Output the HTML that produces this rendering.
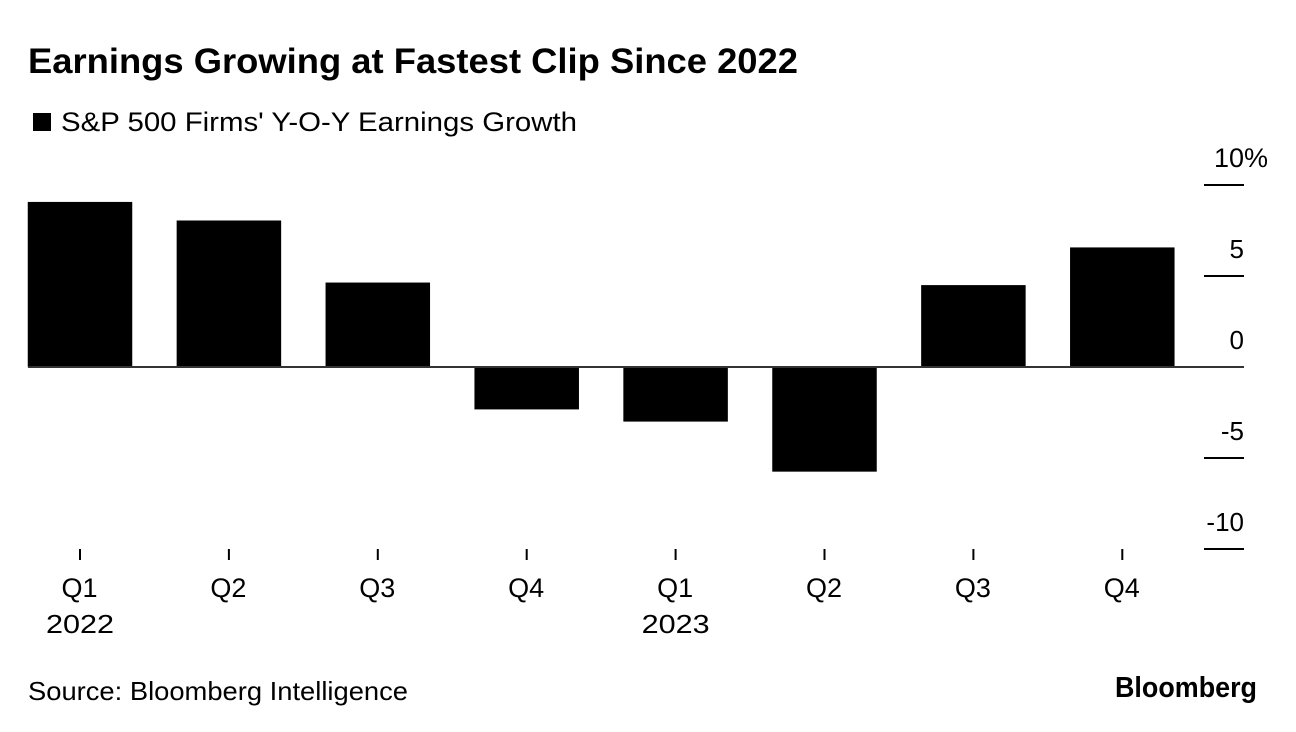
<!DOCTYPE html>
<html lang="en">
<head>
<meta charset="utf-8">
<title>Earnings Growing at Fastest Clip Since 2022</title>
<style>
html,body{margin:0;padding:0;background:#fff;}
body{width:1296px;height:732px;overflow:hidden;}
svg{display:block;}
text{font-family:"Liberation Sans",sans-serif;fill:#000;}
</style>
</head>
<body>
<svg id="chart" width="1296" height="732" viewBox="0 0 1296 732" xmlns="http://www.w3.org/2000/svg">
  <rect x="0" y="0" width="1296" height="732" fill="#fff"/>
  <text x="28" y="73" font-size="35" font-weight="700" textLength="770" lengthAdjust="spacingAndGlyphs">Earnings Growing at Fastest Clip Since 2022</text>
  <rect x="33" y="113" width="18" height="18" fill="#000"/>
  <text x="61" y="131" font-size="27" textLength="516" lengthAdjust="spacingAndGlyphs">S&amp;P 500 Firms' Y-O-Y Earnings Growth</text>
  <g id="y-axis"></g>
  <g id="bars"></g>
  <g id="x-axis"></g>
  <line id="zero-line" x1="28" x2="1244" stroke="#333" stroke-width="2"/>
  <text x="28" y="700" font-size="26" textLength="380" lengthAdjust="spacingAndGlyphs">Source: Bloomberg Intelligence</text>
  <text x="1115" y="697" font-size="29" font-weight="700" textLength="142" lengthAdjust="spacingAndGlyphs">Bloomberg</text>
</svg>
<script>
const quarters = ['Q1', 'Q2', 'Q3', 'Q4', 'Q1', 'Q2', 'Q3', 'Q4'];
const years = ['2022', '', '', '', '2023', '', '', ''];
const growth = [9.07, 8.05, 4.64, -2.33, -3.0, -5.75, 4.5, 6.57];
const yTicks = [10, 5, 0, -5, -10];
const yTickLabels = ['10%', '5', '0', '-5', '-10'];

const svgNS = 'http://www.w3.org/2000/svg';
const yZero = 367;
const yPerUnit = 18.2;
const xFirst = 80;
const xStep = 148.9;
const barWidth = 104.5;
const yScale = v => yZero - v * yPerUnit;
const xScale = i => xFirst + i * xStep;

function make(tag, attrs, parent, content) {
  const el = document.createElementNS(svgNS, tag);
  Object.keys(attrs).forEach(k => el.setAttribute(k, attrs[k]));
  if (content !== undefined) el.textContent = content;
  parent.appendChild(el);
  return el;
}

const barsGroup = document.getElementById('bars');
const xGroup = document.getElementById('x-axis');
const yGroup = document.getElementById('y-axis');
document.getElementById('zero-line').setAttribute('y1', yZero);
document.getElementById('zero-line').setAttribute('y2', yZero);

growth.forEach((v, i) => {
  const top = Math.min(yScale(v), yZero);
  const h = Math.abs(yScale(v) - yZero);
  const bar = make('rect', {x: xScale(i) - barWidth / 2, y: top, width: barWidth, height: h, fill: '#000'}, barsGroup);
  
  
});

quarters.forEach((q, i) => {
  const tick = make('line', {x1: xScale(i), x2: xScale(i), y1: 549, y2: 560, stroke: '#000', 'stroke-width': 2}, xGroup);
  
  
  const label = make('text', {x: xScale(i) - 0.5, y: 597, 'font-size': 27, 'text-anchor': 'middle'}, xGroup, q);
  
  
  if (years[i]) {
    const yearLabel = make('text', {x: xScale(i) - 34, y: 633, 'font-size': 26, textLength: 68, lengthAdjust: 'spacingAndGlyphs'}, xGroup, years[i]);
    
    
  }
});

yTicks.forEach((v, i) => {
  const tick = make('line', {x1: 1204, x2: 1244, y1: yScale(v), y2: yScale(v), stroke: '#000', 'stroke-width': 2}, yGroup);
  
  
  const label = make('text', {x: 1244, y: yScale(v) - 18, 'font-size': 26, 'text-anchor': 'end'}, yGroup, yTickLabels[i]);
  
  
  if (i === 0) {
    label.setAttribute('x', 1268);
    label.setAttribute('font-size', 27);
  }
});
</script>
</body>
</html>
